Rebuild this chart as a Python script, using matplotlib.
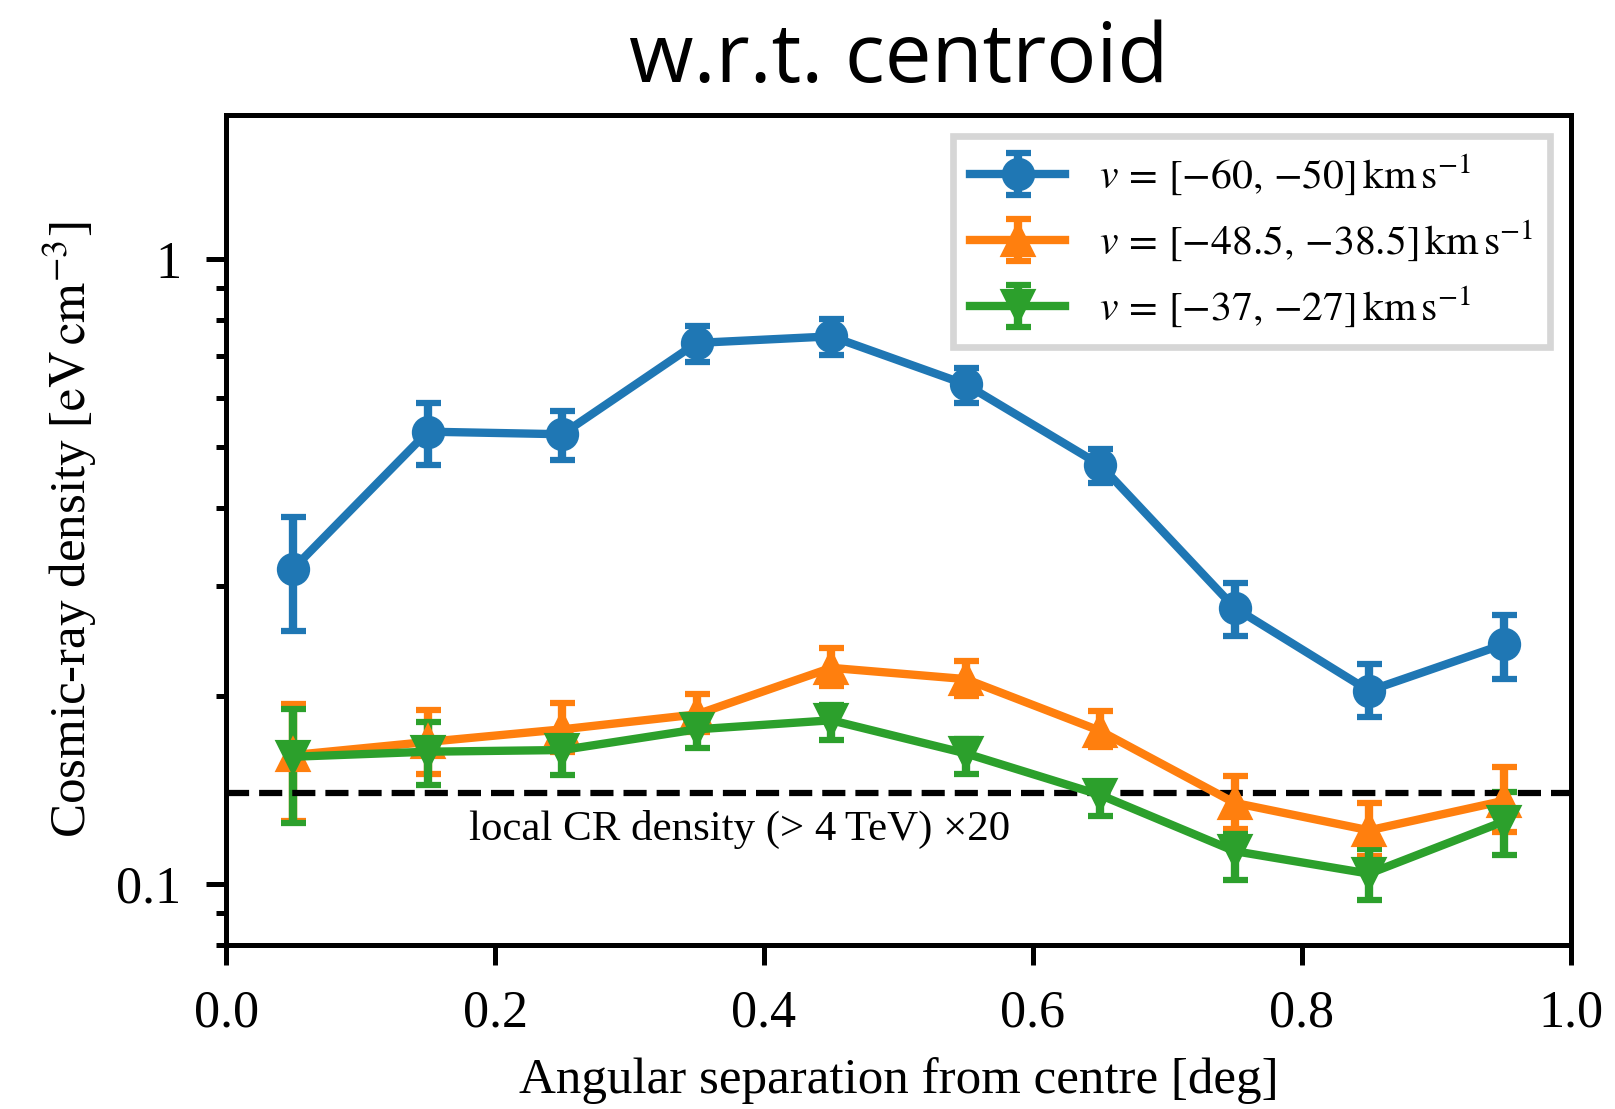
import matplotlib
matplotlib.use("Agg")
import matplotlib.pyplot as plt
from matplotlib.ticker import FuncFormatter, NullFormatter

plt.rcParams["font.family"] = ["Liberation Serif", "DejaVu Serif"]
plt.rcParams["mathtext.fontset"] = "stix"
plt.rcParams["axes.linewidth"] = 1.2

# Angular bins (deg)
sep = [0.05, 0.15, 0.25, 0.35, 0.45, 0.55, 0.65, 0.75, 0.85, 0.95]

# v = [-60, -50] km/s
cr_a = [0.320, 0.530, 0.525, 0.735, 0.753, 0.631, 0.469, 0.277, 0.204, 0.242]
cr_a_lo = [0.254, 0.468, 0.478, 0.685, 0.703, 0.590, 0.438, 0.250, 0.185, 0.213]
cr_a_hi = [0.387, 0.590, 0.572, 0.783, 0.803, 0.671, 0.497, 0.303, 0.225, 0.270]

# v = [-48.5, -38.5] km/s
cr_b = [0.161, 0.169, 0.177, 0.187, 0.222, 0.213, 0.176, 0.135, 0.122, 0.136]
cr_b_lo = [0.1265, 0.150, 0.1626, 0.175, 0.208, 0.200, 0.166, 0.1224, 0.111, 0.1213]
cr_b_hi = [0.194, 0.190, 0.195, 0.2014, 0.239, 0.2276, 0.1895, 0.149, 0.135, 0.154]

# v = [-37, -27] km/s
cr_c = [0.160, 0.163, 0.164, 0.177, 0.183, 0.162, 0.139, 0.113, 0.104, 0.126]
cr_c_lo = [0.1255, 0.144, 0.1496, 0.165, 0.170, 0.150, 0.1286, 0.1015, 0.0943, 0.1113]
cr_c_hi = [0.1907, 0.1816, 0.1718, 0.186, 0.1935, 0.1708, 0.1457, 0.1205, 0.114, 0.1404]

labels = [
    r"$v\,=\,[{-}60,\,{-}50]\,\mathrm{km\,s^{-1}}$",
    r"$v\,=\,[{-}48.5,\,{-}38.5]\,\mathrm{km\,s^{-1}}$",
    r"$v\,=\,[{-}37,\,{-}27]\,\mathrm{km\,s^{-1}}$",
]
markers = ["o", "^", "v"]
colors = ["C0", "C1", "C2"]

local_cr = 0.14  # local CR density (>4 TeV) x20

fig = plt.figure(figsize=(1615 / 300, 1109 / 300), dpi=300)
ax = fig.add_axes([0.140, 0.148, 0.8326, 0.748])

series = [(cr_a, cr_a_lo, cr_a_hi), (cr_b, cr_b_lo, cr_b_hi), (cr_c, cr_c_lo, cr_c_hi)]
for (y, lo, hi), lab, m, c in zip(series, labels, markers, colors):
    yerr = [[v - l for v, l in zip(y, lo)], [h - v for v, h in zip(y, hi)]]
    ax.errorbar(sep, y, yerr=yerr, marker=m, ms=7, color=c, lw=2,
                elinewidth=2, capsize=3, capthick=1.5, label=lab)

ax.axhline(local_cr, color="k", ls="--", lw=1.5)
ax.text(0.181, 0.1176, "local CR density (> 4\u2009TeV) \u00d720", fontsize=10.3,
        ha="left", va="baseline")

ax.set_yscale("log")
ax.set_xlim(0, 1)
ax.set_ylim(0.08, 1.7)
ax.yaxis.set_major_formatter(FuncFormatter(lambda v, p: f"{v:g}"))
ax.yaxis.set_minor_formatter(NullFormatter())
ax.tick_params(which="major", length=4.8, width=1.2, labelsize=12.5, pad=6)
ax.tick_params(which="minor", length=2.4, width=1.2)

ax.set_xlabel("Angular separation from centre [deg]", fontsize=12.25, labelpad=4.5)
ax.set_ylabel(r"Cosmic-ray density [$\mathrm{eV\,cm^{-3}}$]", fontsize=12.25)
ax.set_title("w.r.t. centroid", fontsize=20, family=["Open Sans", "DejaVu Sans"], pad=8)

leg = ax.legend(loc="upper right", fontsize=10, handlelength=2.3, fancybox=False,
                framealpha=1, edgecolor="0.84")
leg.get_frame().set_linewidth(1.6)

fig.savefig("out.png", dpi=300)
